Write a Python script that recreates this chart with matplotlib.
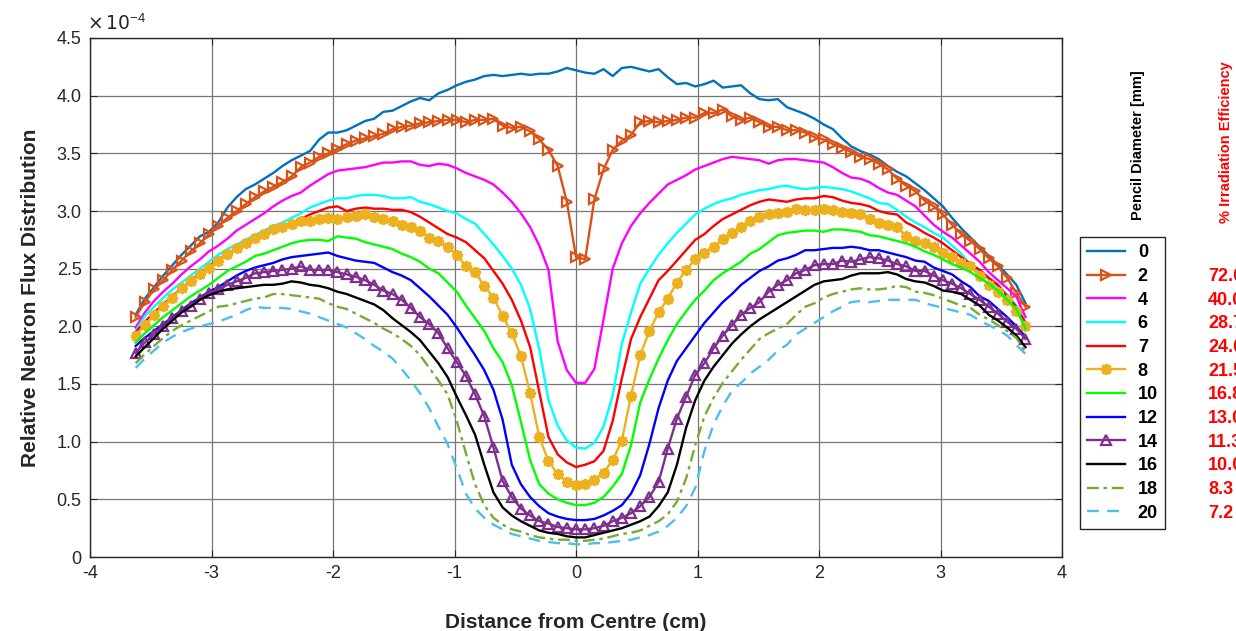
import numpy as np
import matplotlib
matplotlib.use("Agg")
import matplotlib.pyplot as plt
from matplotlib.ticker import FuncFormatter

plt.rcParams['font.family'] = ['Liberation Sans', 'DejaVu Sans']
plt.rcParams['axes.unicode_minus'] = False

# sample positions (cm), regular grid of 98 points
x_step = 0.0755
x_cm = np.arange(-48, 50) * x_step

# relative neutron flux, in units of 1e-4
flux_0 = [2.10, 2.24, 2.34, 2.44, 2.53, 2.62, 2.70, 2.78, 2.82, 2.90,
          3.03, 3.12, 3.19, 3.23, 3.28, 3.33, 3.39, 3.44, 3.48, 3.52,
          3.62, 3.68, 3.68, 3.70, 3.74, 3.78, 3.80, 3.86, 3.87, 3.91,
          3.95, 3.98, 3.96, 4.02, 4.05, 4.09, 4.12, 4.14, 4.17, 4.18,
          4.17, 4.18, 4.19, 4.18, 4.19, 4.19, 4.21, 4.24,
          4.22,
          4.20, 4.19, 4.23, 4.17, 4.24, 4.25, 4.23, 4.21, 4.23, 4.16,
          4.10, 4.11, 4.08, 4.10, 4.13, 4.07, 4.08, 4.09, 4.02, 3.97,
          3.96, 3.97, 3.90, 3.87, 3.84, 3.80, 3.75, 3.71, 3.63, 3.56,
          3.52, 3.49, 3.45, 3.39, 3.34, 3.30, 3.24, 3.18, 3.11, 3.04,
          2.94, 2.85, 2.77, 2.69, 2.61, 2.53, 2.45, 2.36, 2.20]
flux_2 = [2.08, 2.21, 2.32, 2.40, 2.49, 2.57, 2.65, 2.72, 2.80, 2.87,
          2.94, 3.00, 3.06, 3.12, 3.17, 3.21, 3.25, 3.30, 3.38, 3.42,
          3.47, 3.50, 3.54, 3.58, 3.61, 3.63, 3.65, 3.67, 3.71, 3.73,
          3.74, 3.76, 3.77, 3.78, 3.79, 3.79, 3.77, 3.79, 3.79, 3.80,
          3.74, 3.72, 3.73, 3.69, 3.62, 3.53, 3.39, 3.08,
          2.60,
          2.58, 3.10, 3.36, 3.53, 3.61, 3.66, 3.77, 3.78, 3.77, 3.78,
          3.79, 3.81, 3.81, 3.85, 3.85, 3.88, 3.82, 3.79, 3.81, 3.77,
          3.73, 3.73, 3.70, 3.70, 3.68, 3.64, 3.62, 3.58, 3.55, 3.51,
          3.47, 3.45, 3.41, 3.36, 3.28, 3.22, 3.17, 3.09, 3.04, 2.97,
          2.88, 2.80, 2.74, 2.67, 2.59, 2.52, 2.42, 2.29, 2.17]
flux_4 = [1.99, 2.12, 2.22, 2.30, 2.37, 2.45, 2.52, 2.58, 2.65, 2.70,
          2.76, 2.83, 2.88, 2.93, 2.98, 3.04, 3.09, 3.13, 3.16, 3.22,
          3.27, 3.32, 3.35, 3.36, 3.37, 3.38, 3.40, 3.42, 3.42, 3.43,
          3.43, 3.40, 3.39, 3.41, 3.40, 3.37, 3.33, 3.30, 3.27, 3.23,
          3.16, 3.08, 2.98, 2.86, 2.70, 2.49, 1.87, 1.62,
          1.51,
          1.51, 1.63, 2.06, 2.50, 2.72, 2.87, 2.98, 3.07, 3.15, 3.23,
          3.27, 3.31, 3.36, 3.39, 3.42, 3.45, 3.47, 3.46, 3.45, 3.44,
          3.41, 3.44, 3.45, 3.45, 3.44, 3.43, 3.42, 3.38, 3.33, 3.29,
          3.28, 3.25, 3.20, 3.16, 3.14, 3.09, 3.04, 2.96, 2.88, 2.82,
          2.77, 2.70, 2.63, 2.56, 2.47, 2.40, 2.33, 2.26, 2.08]
flux_6 = [1.96, 2.09, 2.17, 2.25, 2.32, 2.38, 2.44, 2.50, 2.56, 2.62,
          2.67, 2.71, 2.75, 2.79, 2.83, 2.87, 2.90, 2.94, 2.98, 3.03,
          3.06, 3.09, 3.11, 3.11, 3.13, 3.14, 3.14, 3.13, 3.11, 3.11,
          3.12, 3.08, 3.06, 3.03, 3.00, 2.98, 2.93, 2.89, 2.80, 2.71,
          2.61, 2.50, 2.36, 2.15, 1.80, 1.36, 1.14, 1.01,
          0.95,
          0.94, 0.99, 1.13, 1.40, 1.85, 2.12, 2.37, 2.50, 2.62, 2.72,
          2.81, 2.89, 2.97, 3.02, 3.06, 3.09, 3.11, 3.14, 3.16, 3.18,
          3.19, 3.21, 3.22, 3.20, 3.19, 3.20, 3.21, 3.20, 3.19, 3.17,
          3.14, 3.11, 3.07, 3.06, 3.01, 2.95, 2.90, 2.86, 2.81, 2.77,
          2.70, 2.63, 2.53, 2.46, 2.41, 2.34, 2.28, 2.18, 2.04]
flux_7 = [1.95, 2.04, 2.12, 2.19, 2.26, 2.33, 2.40, 2.46, 2.52, 2.58,
          2.63, 2.67, 2.72, 2.76, 2.80, 2.83, 2.87, 2.90, 2.93, 2.97,
          3.00, 3.03, 3.04, 3.00, 3.02, 3.03, 3.02, 3.02, 3.01, 3.01,
          2.99, 2.95, 2.90, 2.85, 2.80, 2.77, 2.73, 2.66, 2.59, 2.48,
          2.37, 2.23, 2.05, 1.82, 1.43, 1.04, 0.89, 0.82,
          0.78,
          0.80, 0.83, 0.92, 1.18, 1.55, 1.89, 2.08, 2.24, 2.40, 2.48,
          2.57, 2.66, 2.75, 2.80, 2.87, 2.93, 2.97, 3.01, 3.05, 3.08,
          3.10, 3.09, 3.08, 3.10, 3.11, 3.11, 3.13, 3.12, 3.09, 3.07,
          3.06, 3.04, 3.00, 2.98, 2.97, 2.90, 2.86, 2.81, 2.77, 2.72,
          2.66, 2.60, 2.54, 2.49, 2.42, 2.36, 2.26, 2.17, 2.03]
flux_8 = [1.92, 2.01, 2.10, 2.18, 2.25, 2.33, 2.39, 2.45, 2.51, 2.57,
          2.63, 2.68, 2.72, 2.77, 2.80, 2.84, 2.86, 2.89, 2.91, 2.91,
          2.93, 2.94, 2.93, 2.95, 2.96, 2.97, 2.95, 2.93, 2.91, 2.88,
          2.86, 2.83, 2.77, 2.74, 2.69, 2.62, 2.52, 2.47, 2.35, 2.25,
          2.09, 1.94, 1.74, 1.42, 1.04, 0.83, 0.72, 0.65,
          0.62,
          0.63, 0.67, 0.73, 0.84, 1.01, 1.40, 1.75, 1.96, 2.12, 2.24,
          2.38, 2.49, 2.58, 2.64, 2.69, 2.76, 2.81, 2.86, 2.91, 2.95,
          2.97, 2.98, 2.99, 3.02, 3.01, 3.01, 3.02, 3.01, 2.99, 2.98,
          2.97, 2.93, 2.90, 2.88, 2.86, 2.78, 2.74, 2.72, 2.69, 2.64,
          2.60, 2.55, 2.52, 2.44, 2.36, 2.30, 2.23, 2.13, 2.00]
flux_10 = [1.86, 1.94, 2.01, 2.08, 2.14, 2.20, 2.26, 2.31, 2.36, 2.42,
           2.48, 2.52, 2.56, 2.61, 2.63, 2.66, 2.69, 2.72, 2.74, 2.75,
           2.75, 2.74, 2.78, 2.77, 2.76, 2.73, 2.71, 2.69, 2.67, 2.63,
           2.60, 2.56, 2.50, 2.46, 2.38, 2.30, 2.18, 2.07, 1.96, 1.81,
           1.69, 1.49, 1.17, 0.84, 0.63, 0.55, 0.50, 0.47,
           0.45,
           0.45, 0.47, 0.52, 0.61, 0.72, 0.97, 1.34, 1.54, 1.72, 1.88,
           2.02, 2.13, 2.23, 2.31, 2.40, 2.46, 2.51, 2.56, 2.63, 2.67,
           2.73, 2.79, 2.81, 2.82, 2.83, 2.83, 2.82, 2.84, 2.84, 2.83,
           2.82, 2.79, 2.78, 2.76, 2.74, 2.72, 2.69, 2.65, 2.62, 2.58,
           2.54, 2.51, 2.47, 2.42, 2.37, 2.31, 2.23, 2.15, 1.98]
flux_12 = [1.83, 1.90, 1.96, 2.02, 2.08, 2.14, 2.20, 2.25, 2.30, 2.34,
           2.39, 2.44, 2.48, 2.51, 2.53, 2.55, 2.58, 2.60, 2.61, 2.62,
           2.63, 2.64, 2.61, 2.59, 2.57, 2.56, 2.55, 2.51, 2.47, 2.44,
           2.40, 2.33, 2.26, 2.18, 2.10, 1.99, 1.87, 1.75, 1.62, 1.45,
           1.19, 0.80, 0.63, 0.52, 0.44, 0.38, 0.35, 0.33,
           0.32,
           0.32, 0.33, 0.36, 0.40, 0.45, 0.55, 0.71, 0.98, 1.29, 1.53,
           1.70, 1.81, 1.92, 2.03, 2.12, 2.21, 2.28, 2.36, 2.42, 2.48,
           2.52, 2.57, 2.59, 2.62, 2.66, 2.66, 2.67, 2.68, 2.68, 2.69,
           2.68, 2.66, 2.66, 2.64, 2.62, 2.60, 2.57, 2.56, 2.51, 2.48,
           2.45, 2.39, 2.34, 2.26, 2.22, 2.15, 2.08, 2.00, 1.91]
flux_14 = [1.77, 1.86, 1.93, 2.00, 2.07, 2.13, 2.18, 2.24, 2.29, 2.32,
           2.36, 2.39, 2.42, 2.46, 2.47, 2.48, 2.49, 2.50, 2.52, 2.49,
           2.49, 2.49, 2.47, 2.45, 2.43, 2.40, 2.36, 2.31, 2.28, 2.23,
           2.16, 2.08, 2.02, 1.94, 1.81, 1.69, 1.57, 1.41, 1.22, 0.95,
           0.66, 0.52, 0.42, 0.36, 0.31, 0.29, 0.26, 0.25,
           0.24,
           0.24, 0.25, 0.27, 0.31, 0.34, 0.38, 0.44, 0.52, 0.65, 0.94,
           1.20, 1.39, 1.58, 1.68, 1.81, 1.92, 2.01, 2.10, 2.16, 2.21,
           2.30, 2.36, 2.40, 2.46, 2.49, 2.53, 2.54, 2.54, 2.57, 2.56,
           2.58, 2.60, 2.59, 2.57, 2.54, 2.52, 2.48, 2.48, 2.44, 2.40,
           2.37, 2.33, 2.28, 2.23, 2.17, 2.11, 2.04, 1.98, 1.89]
flux_16 = [1.74, 1.82, 1.90, 1.98, 2.05, 2.12, 2.17, 2.23, 2.27, 2.30,
           2.32, 2.33, 2.34, 2.35, 2.36, 2.36, 2.37, 2.39, 2.38, 2.36,
           2.35, 2.33, 2.30, 2.28, 2.25, 2.22, 2.19, 2.14, 2.07, 2.01,
           1.95, 1.88, 1.78, 1.68, 1.56, 1.39, 1.23, 1.06, 0.80, 0.56,
           0.43, 0.36, 0.31, 0.27, 0.23, 0.21, 0.20, 0.18,
           0.17,
           0.17, 0.19, 0.21, 0.23, 0.25, 0.28, 0.31, 0.35, 0.44, 0.56,
           0.80, 1.12, 1.36, 1.53, 1.65, 1.75, 1.85, 1.93, 2.00, 2.06,
           2.11, 2.16, 2.21, 2.26, 2.31, 2.36, 2.39, 2.40, 2.41, 2.44,
           2.46, 2.46, 2.46, 2.47, 2.45, 2.41, 2.39, 2.38, 2.35, 2.31,
           2.30, 2.28, 2.23, 2.18, 2.10, 2.05, 1.99, 1.92, 1.82]
flux_18 = [1.68, 1.76, 1.83, 1.90, 1.96, 2.01, 2.05, 2.09, 2.13, 2.17,
           2.18, 2.20, 2.22, 2.24, 2.25, 2.28, 2.28, 2.27, 2.26, 2.25,
           2.24, 2.20, 2.17, 2.15, 2.11, 2.07, 2.03, 1.98, 1.94, 1.89,
           1.83, 1.75, 1.64, 1.53, 1.41, 1.18, 0.90, 0.63, 0.45, 0.34,
           0.28, 0.24, 0.22, 0.19, 0.17, 0.16, 0.15, 0.15,
           0.14,
           0.14, 0.15, 0.16, 0.18, 0.20, 0.21, 0.23, 0.27, 0.31, 0.37,
           0.48, 0.68, 0.97, 1.22, 1.38, 1.51, 1.61, 1.71, 1.80, 1.89,
           1.94, 1.98, 2.02, 2.10, 2.17, 2.20, 2.25, 2.28, 2.30, 2.32,
           2.33, 2.32, 2.32, 2.33, 2.35, 2.34, 2.30, 2.29, 2.27, 2.24,
           2.21, 2.18, 2.16, 2.10, 2.06, 2.01, 1.96, 1.90, 1.78]
flux_20 = [1.64, 1.72, 1.79, 1.86, 1.91, 1.95, 1.98, 2.00, 2.02, 2.04,
           2.07, 2.10, 2.14, 2.17, 2.16, 2.16, 2.16, 2.15, 2.13, 2.11,
           2.08, 2.05, 2.02, 1.99, 1.94, 1.89, 1.83, 1.78, 1.72, 1.63,
           1.53, 1.42, 1.29, 1.13, 0.98, 0.77, 0.55, 0.42, 0.34, 0.28,
           0.24, 0.20, 0.18, 0.16, 0.14, 0.13, 0.12, 0.12,
           0.11,
           0.11, 0.12, 0.12, 0.13, 0.14, 0.15, 0.17, 0.19, 0.22, 0.27,
           0.34, 0.44, 0.60, 0.92, 1.15, 1.31, 1.44, 1.51, 1.59, 1.65,
           1.71, 1.79, 1.84, 1.93, 1.98, 2.03, 2.08, 2.13, 2.17, 2.21,
           2.22, 2.21, 2.22, 2.23, 2.23, 2.23, 2.23, 2.20, 2.18, 2.16,
           2.14, 2.12, 2.10, 2.05, 2.01, 1.97, 1.92, 1.84, 1.76]

diameters = ['0', '2', '4', '6', '7', '8', '10', '12', '14', '16', '18', '20']
efficiency = ['72.0', '40.0', '28.7', '24.0', '21.5', '16.8', '13.0',
              '11.3', '10.0', '8.3', '7.2']

series = [flux_0, flux_2, flux_4, flux_6, flux_7, flux_8,
          flux_10, flux_12, flux_14, flux_16, flux_18, flux_20]

styles = [
    dict(color='#0072BD', ls='-'),
    dict(color='#D95319', ls='-', marker='>', mfc='none', ms=7, mew=1.6),
    dict(color='#FF00FF', ls='-'),
    dict(color='#00FFFF', ls='-'),
    dict(color='#FF0000', ls='-'),
    dict(color='#EDB120', ls='-', marker=(8, 2, 0), ms=8, mew=2.2),
    dict(color='#00FF00', ls='-'),
    dict(color='#0000FF', ls='-'),
    dict(color='#7E2F8E', ls='-', marker='^', mfc='none', ms=7, mew=1.6),
    dict(color='#000000', ls='-'),
    dict(color='#77AC30', ls=(0, (5, 2, 1.5, 2))),
    dict(color='#4DBEEE', ls=(0, (5, 3.5))),
]

W, H = 1236, 631
fig = plt.figure(figsize=(W / 100, H / 100), dpi=100)
ax = fig.add_axes([90 / W, 74 / H, 972 / W, 519 / H])

for vals, lab, st in zip(series, diameters, styles):
    ax.plot(x_cm, np.array(vals) * 1e-4, lw=1.7, label=lab, **st)

ax.set_xlim(-4, 4)
ax.set_ylim(0, 4.5e-4)
ax.set_xticks(np.arange(-4, 5, 1))
ax.set_yticks(np.arange(0, 4.51e-4, 0.5e-4))
ax.yaxis.set_major_formatter(FuncFormatter(
    lambda v, p: '0' if abs(v) < 1e-9 else '%.1f' % (v * 1e4)))
ax.grid(True, color='#777777', lw=0.9)
ax.set_axisbelow(True)
ax.tick_params(direction='in', top=True, right=True, length=5,
               labelsize=13, colors='#262626', pad=6)
for sp in ax.spines.values():
    sp.set_color('#262626')
    sp.set_linewidth(1.0)

ax.set_xlabel('Distance from Centre (cm)', fontsize=15, fontweight='bold',
              color='#262626', labelpad=22)
ax.set_ylabel('Relative Neutron Flux Distribution', fontsize=15,
              fontweight='bold', color='#262626', labelpad=12)
ax.text(-0.003, 1.008, r'$\times\,10^{\mathregular{-4}}$', transform=ax.transAxes,
        fontsize=13.5, ha='left', va='bottom', color='#262626')

leg = ax.legend(loc='upper left', bbox_to_anchor=(1080 / W, 1 - 237 / H),
                bbox_transform=fig.transFigure, borderaxespad=0,
                fancybox=False, edgecolor='#262626', framealpha=1,
                prop={'size': 13, 'weight': 'bold'}, handlelength=2.1,
                labelspacing=0.37, handletextpad=0.7, borderpad=0.4)
leg.get_frame().set_linewidth(1.0)

fig.text(1138 / W, 1 - 145 / H, 'Pencil Diameter [mm]', rotation=90,
         fontsize=10.5, fontweight='bold', ha='center', va='center')
fig.text(1226 / W, 1 - 142 / H, '% Irradiation Efficiency', rotation=90,
         fontsize=10.5, fontweight='bold', color='red', ha='center', va='center')

# efficiency values aligned with legend rows (skip diameter 0)
fig.canvas.draw()
for t, eff in zip(leg.get_texts()[1:], efficiency):
    bb = t.get_window_extent()
    fig.text(1208 / W, (bb.y0 + bb.y1) / 2 / H, eff, fontsize=13,
             fontweight='bold', color='red', ha='left', va='center')

fig.savefig('out.png', dpi=100)
